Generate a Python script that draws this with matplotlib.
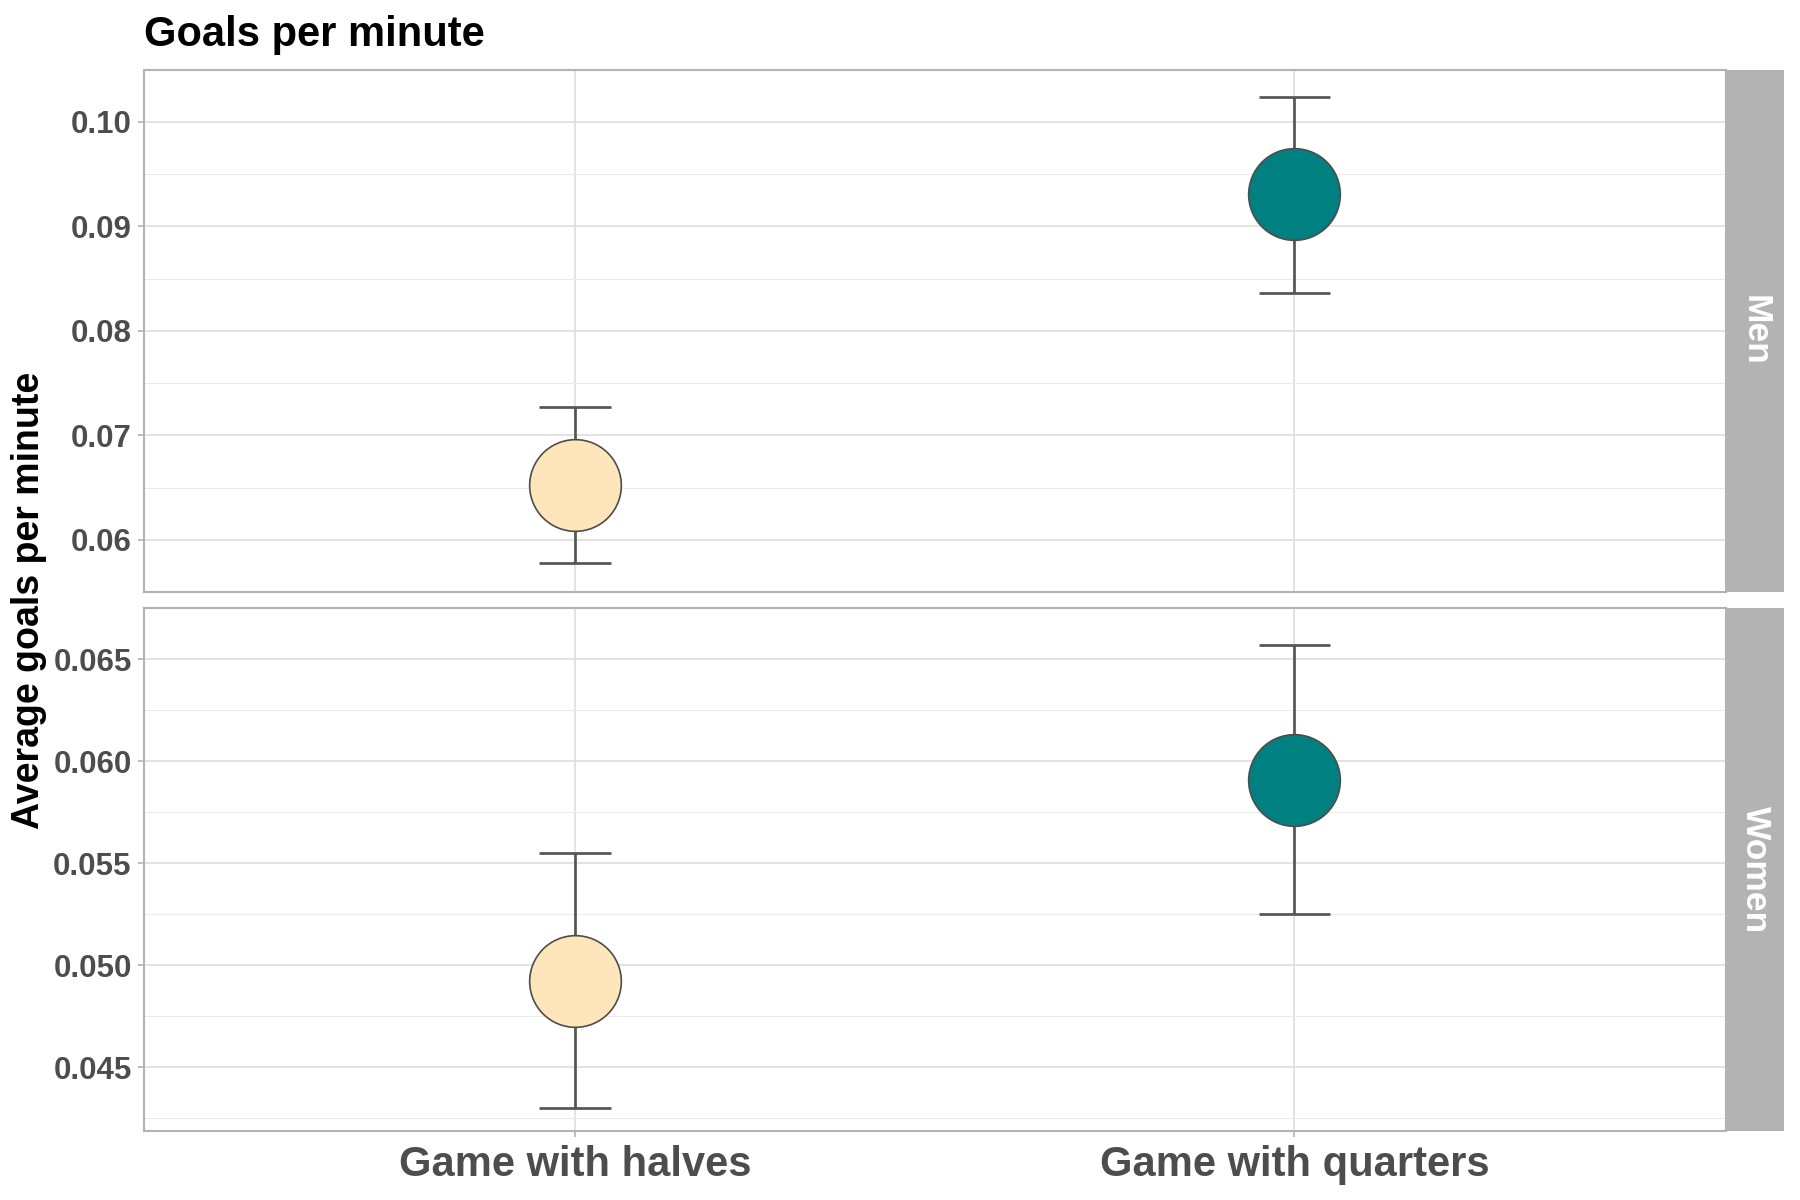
"""Goals per minute: mean and interval by game format, faceted by sex."""
import numpy as np
import matplotlib
matplotlib.use('Agg')
from matplotlib import pyplot as plt

plt.rcParams['font.family'] = ['Liberation Sans', 'DejaVu Sans']
plt.rcParams['font.weight'] = 'bold'

#
# Data
#
categories = ['Game with halves', 'Game with quarters']
panels = ['Men', 'Women']

men_mean = [0.0652, 0.0931]
men_low = [0.0578, 0.0836]
men_high = [0.0727, 0.1024]

women_mean = [0.0492, 0.0591]
women_low = [0.0430, 0.0525]
women_high = [0.0555, 0.0657]

men_ticks = [0.06, 0.07, 0.08, 0.09, 0.10]
women_ticks = [0.045, 0.050, 0.055, 0.060, 0.065]
men_labels = ['0.06', '0.07', '0.08', '0.09', '0.10']
women_labels = ['0.045', '0.050', '0.055', '0.060', '0.065']

colours = ['#FFE6BA', '#008080']

#
# Layout
#
W, H = 1800., 1200.
left, right = 143.7 / W, 1726. / W
strip_w = 58. / W
boxes = [(69.5, 592.), (608.4, 1131.)]

fig = plt.figure(figsize=(12, 8), dpi=150)

data = [(men_mean, men_low, men_high, men_ticks, men_labels),
        (women_mean, women_low, women_high, women_ticks, women_labels)]

x = np.arange(len(categories))

for k, (mean, low, high, ticks, labels) in enumerate(data):
    top, bot = boxes[k]
    ax = fig.add_axes([left, 1 - bot / H, right - left, (bot - top) / H])

    ## ggplot-like 5% expansion
    lo, hi = min(low), max(high)
    pad = 0.05 * (hi - lo)
    ax.set_ylim(lo - pad, hi + pad)
    ax.set_xlim(-0.6, len(categories) - 1 + 0.6)

    ax.set_yticks(ticks)
    ax.set_yticklabels(labels)
    minor = [(a + b) / 2. for a, b in zip(ticks[:-1], ticks[1:])]
    step = ticks[1] - ticks[0]
    minor = [ticks[0] - step / 2.] + minor + [ticks[-1] + step / 2.]
    ax.set_yticks(minor, minor=True)
    ax.set_xticks(x)

    ax.grid(True, which='major', color='#DEDEDE', lw=0.8)
    ax.grid(True, which='minor', axis='y', color='#EBEBEB', lw=0.5)
    ax.set_axisbelow(True)

    for s in ax.spines.values():
        s.set_color('#B3B3B3')
        s.set_linewidth(1.0)
    ax.tick_params(axis='both', which='major', length=2.75, width=0.8,
                   color='#B3B3B3', labelcolor='#4D4D4D')
    ax.tick_params(axis='y', which='major', labelsize=15, pad=3)
    ax.tick_params(axis='x', which='major', pad=4)
    ax.tick_params(axis='y', which='minor', length=0)
    if k == 1:
        ax.set_xticklabels(categories, fontsize=20, color='#4D4D4D',
                           fontweight='bold')
    else:
        ax.set_xticklabels([])
        ax.tick_params(axis='x', which='major', length=0)
    for t in ax.get_yticklabels():
        t.set_fontweight('bold')

    ## Error bars and points
    ax.vlines(x, low, high, color='#555555', lw=1.3, zorder=2)
    ax.hlines(low, x - 0.05, x + 0.05, color='#555555', lw=1.3, zorder=2)
    ax.hlines(high, x - 0.05, x + 0.05, color='#555555', lw=1.3, zorder=2)
    for i in range(len(categories)):
        ax.plot(x[i], mean[i], 'o', ms=44, mfc=colours[i], mec='#4D4D4D',
                mew=0.8, zorder=3)

    ## Facet strip
    sax = fig.add_axes([right, 1 - bot / H, strip_w, (bot - top) / H])
    sax.set_facecolor('#B3B3B3')
    sax.set_xticks([])
    sax.set_yticks([])
    for s in sax.spines.values():
        s.set_visible(False)
    sax.text(0.5, 0.5, panels[k], rotation=270, ha='center', va='center',
             color='white', fontsize=17, fontweight='bold',
             transform=sax.transAxes)

fig.text(left, 1 - 46. / H, 'Goals per minute', fontsize=20,
         fontweight='bold', color='black', ha='left', va='baseline')
fig.text(29. / W, 0.5, 'Average goals per minute', rotation=90,
         fontsize=18, fontweight='bold', color='black',
         ha='center', va='center')

plt.savefig('out.png', dpi=150)
